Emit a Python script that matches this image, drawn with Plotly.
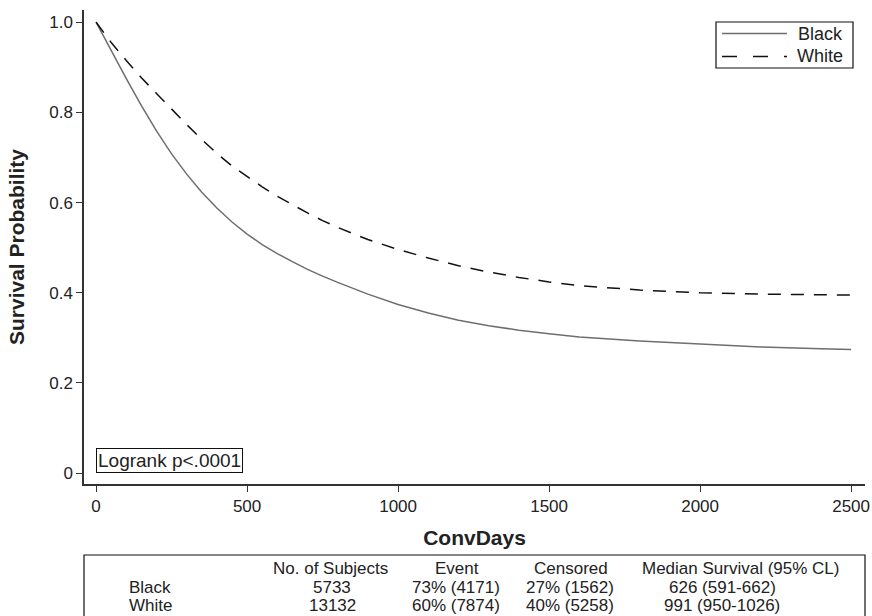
import plotly.graph_objects as go

# ---------------- data ----------------
days = [0, 50, 100, 150, 200, 250, 300, 350, 400, 450, 500, 550, 600, 650, 700, 750, 800,
        900, 1000, 1100, 1200, 1300, 1400, 1500, 1600, 1800, 2000, 2200, 2400, 2500]
surv_black = [1.000, 0.936, 0.875, 0.815, 0.759, 0.708, 0.663, 0.623, 0.588, 0.557, 0.530,
              0.507, 0.487, 0.469, 0.452, 0.437, 0.423,
              0.397, 0.374, 0.355, 0.339, 0.327, 0.317, 0.309, 0.302,
              0.293, 0.286, 0.280, 0.276, 0.274]
surv_white = [1.000, 0.955, 0.915, 0.877, 0.842, 0.807, 0.773, 0.740, 0.709, 0.681, 0.657,
              0.635, 0.614, 0.595, 0.577, 0.560, 0.545,
              0.518, 0.496, 0.477, 0.460, 0.446, 0.434, 0.424, 0.416,
              0.406, 0.400, 0.397, 0.395, 0.395]

x_ticks = [0, 500, 1000, 1500, 2000, 2500]
y_ticks = [0, 0.2, 0.4, 0.6, 0.8, 1.0]
y_ticklabels = ["0", "0.2", "0.4", "0.6", "0.8", "1.0"]

series_names = ["Black", "White"]
series_colors = ["#6e6e6e", "#111111"]

table_header = ["No. of Subjects", "Event", "Censored", "Median Survival (95% CL)"]
groups = ["Black", "White"]
n_subjects = ["5733", "13132"]
events = ["73% (4171)", "60% (7874)"]
censored = ["27% (1562)", "40% (5258)"]
median_surv = ["626 (591-662)", "991 (950-1026)"]

FONT = "Liberation Sans, Arial, Helvetica, sans-serif"
TXT = "#222222"

# ---------------- figure ----------------
W, H = 872, 616
L, R, T, B = 84, 7, 10, 132
pw, ph = W - L - R, H - T - B

def px_to_paper_x(px):
    return (px - L) / pw

def px_to_paper_y(py):
    return (H - B - py) / ph

fig = go.Figure()
fig.add_trace(go.Scatter(x=days, y=surv_black, mode="lines", name=series_names[0],
                         line=dict(color=series_colors[0], width=1.5)))
fig.add_trace(go.Scatter(x=days, y=surv_white, mode="lines", name=series_names[1],
                         line=dict(color=series_colors[1], width=1.5, dash="13px,10px")))

fig.update_layout(
    width=W, height=H,
    margin=dict(l=L, r=R, t=T, b=B, autoexpand=False),
    paper_bgcolor="white", plot_bgcolor="white",
    font=dict(family=FONT, size=17, color=TXT),
    showlegend=False,
    xaxis=dict(range=[-40, 2546], tickmode="array", tickvals=x_ticks,
               ticks="outside", ticklen=6, tickwidth=1, tickcolor="#333333",
               showline=True, linecolor="#333333", linewidth=1.5, showgrid=False,
               zeroline=False, tickfont=dict(size=17, color=TXT), automargin=False,
               title=dict(text="<b>ConvDays</b>", font=dict(size=21, color=TXT), standoff=15)),
    yaxis=dict(range=[-0.024, 1.027], tickmode="array", tickvals=y_ticks, ticktext=y_ticklabels,
               ticks="outside", ticklen=6, tickwidth=1, tickcolor="#333333",
               showline=True, linecolor="#333333", linewidth=1.5, showgrid=False,
               zeroline=False, tickfont=dict(size=17, color=TXT), automargin=False,
               title=dict(text="<b>Survival Probability</b>", font=dict(size=21, color=TXT), standoff=19)),
)

# Legend (drawn as a boxed key)
fig.add_shape(type="rect", xref="paper", yref="paper",
              x0=px_to_paper_x(716), x1=px_to_paper_x(853),
              y0=px_to_paper_y(68), y1=px_to_paper_y(22),
              line=dict(color="#111111", width=1.2), fillcolor="white")
legend_rows_px = [33.5, 56.5]
legend_dash = ["solid", "15px,16px"]
for i, name in enumerate(series_names):
    yy = px_to_paper_y(legend_rows_px[i])
    fig.add_shape(type="line", xref="paper", yref="paper",
                  x0=px_to_paper_x(722), x1=px_to_paper_x(787), y0=yy, y1=yy,
                  line=dict(color=series_colors[i], width=1.5, dash=legend_dash[i]))
    fig.add_annotation(x=px_to_paper_x(845), y=yy, xref="paper", yref="paper",
                       xanchor="right", yanchor="middle", text=name, showarrow=False,
                       font=dict(size=18, color=TXT))

# Logrank box
fig.add_annotation(x=0, y=0, xref="x", yref="y", xanchor="left", yanchor="bottom",
                   text="Logrank p<.0001", showarrow=False, font=dict(size=19, color=TXT),
                   bordercolor="#111111", borderwidth=1, borderpad=1, bgcolor="white")

# Summary table
fig.add_shape(type="rect", xref="paper", yref="paper",
              x0=px_to_paper_x(84), x1=px_to_paper_x(865),
              y0=px_to_paper_y(640), y1=px_to_paper_y(555),
              line=dict(color="#111111", width=1.2), fillcolor="rgba(0,0,0,0)")

col_centers_px = [330, 457, 571, 740]
val_centers_px = [332, 456, 570, 722]
row_y_px = [568, 587, 605]
label_left_px = 127

for c, htxt in enumerate(table_header):
    fig.add_annotation(x=px_to_paper_x(col_centers_px[c]), y=px_to_paper_y(row_y_px[0]),
                       xref="paper", yref="paper", xanchor="center", yanchor="middle",
                       text=htxt, showarrow=False, font=dict(size=17, color=TXT))

columns = [n_subjects, events, censored, median_surv]
for r, g in enumerate(groups):
    yy = px_to_paper_y(row_y_px[r + 1])
    fig.add_annotation(x=px_to_paper_x(label_left_px), y=yy, xref="paper", yref="paper",
                       xanchor="left", yanchor="middle", text=g, showarrow=False,
                       font=dict(size=17, color=TXT))
    for c, col in enumerate(columns):
        fig.add_annotation(x=px_to_paper_x(val_centers_px[c]), y=yy, xref="paper", yref="paper",
                           xanchor="center", yanchor="middle", text=col[r], showarrow=False,
                           font=dict(size=17, color=TXT))

fig.write_html("out.html", config={"displayModeBar": False},
               post_script="document.body.style.margin='0';")
